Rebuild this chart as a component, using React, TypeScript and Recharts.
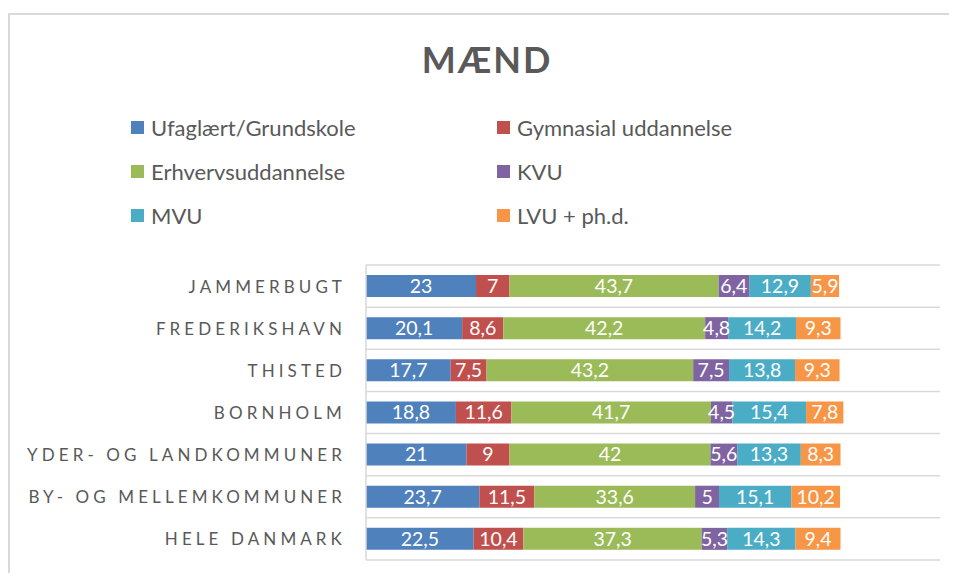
import React from "react";
import { BarChart, Bar, XAxis, YAxis, CartesianGrid, LabelList } from "recharts";

const regions = [
  "JAMMERBUGT",
  "FREDERIKSHAVN",
  "THISTED",
  "BORNHOLM",
  "YDER- OG LANDKOMMUNER",
  "BY- OG MELLEMKOMMUNER",
  "HELE DANMARK",
];

const ufaglaert = [23, 20.1, 17.7, 18.8, 21, 23.7, 22.5];
const gymnasial = [7, 8.6, 7.5, 11.6, 9, 11.5, 10.4];
const erhverv = [43.7, 42.2, 43.2, 41.7, 42, 33.6, 37.3];
const kvu = [6.4, 4.8, 7.5, 4.5, 5.6, 5, 5.3];
const mvu = [12.9, 14.2, 13.8, 15.4, 13.3, 15.1, 14.3];
const lvu = [5.9, 9.3, 9.3, 7.8, 8.3, 10.2, 9.4];

const series = [
  { key: "ufaglaert", name: "Ufaglært/Grundskole", color: "#4f81bd", values: ufaglaert },
  { key: "gymnasial", name: "Gymnasial uddannelse", color: "#c0504d", values: gymnasial },
  { key: "erhverv", name: "Erhvervsuddannelse", color: "#9bbb59", values: erhverv },
  { key: "kvu", name: "KVU", color: "#8064a2", values: kvu },
  { key: "mvu", name: "MVU", color: "#4bacc6", values: mvu },
  { key: "lvu", name: "LVU + ph.d.", color: "#f79646", values: lvu },
];

const data = regions.map((region, i) => {
  const row: Record<string, string | number> = { region };
  series.forEach((s) => {
    row[s.key] = s.values[i];
  });
  return row;
});

const font = "Lato, 'Open Sans', sans-serif";
const grey = "#595959";

const fmt = (v: any) => String(v).replace(".", ",");

const RegionTick = (props: any) => {
  const { x, y, payload } = props;
  return (
    <text
      x={x - 12}
      y={y}
      textAnchor="end"
      dominantBaseline="central"
      fill={grey}
      fontSize={17}
      letterSpacing={4.1}
      fontFamily={font}
    >
      {payload.value}
    </text>
  );
};

export default function App() {
  return (
    <div style={{ position: "relative", width: 949, height: 565, overflow: "hidden", fontFamily: font }}>
      <div
        style={{
          position: "absolute",
          left: 0,
          top: 5,
          width: 949,
          height: 560,
          borderTop: "2px solid #d9d9d9",
          borderLeft: "2px solid #d9d9d9",
          boxSizing: "border-box",
        }}
      />
      <div
        style={{
          position: "absolute",
          left: 0,
          width: 958,
          top: 33,
          textAlign: "center",
          fontSize: 36,
          lineHeight: "36px",
          fontWeight: 700,
          letterSpacing: 2,
          color: grey,
        }}
      >
        MÆND
      </div>
      <div style={{ position: "absolute", left: 123, top: 106, width: 740 }}>
        {series.map((s, i) => (
          <div
            key={s.key}
            style={{
              position: "absolute",
              left: (i % 2) * 366,
              top: Math.floor(i / 2) * 44,
              display: "flex",
              alignItems: "center",
              height: 26,
              fontSize: 22,
              color: grey,
              whiteSpace: "nowrap",
            }}
          >
            <span style={{ width: 13, height: 13, background: s.color, marginRight: 7, display: "inline-block" }} />
            {s.name}
          </div>
        ))}
      </div>
      <div style={{ position: "absolute", left: 0, top: 0 }}>
        <BarChart
          width={949}
          height={565}
          data={data}
          layout="vertical"
          barSize={22}
          margin={{ top: 257, right: 17, bottom: 13, left: 0 }}
        >
          <CartesianGrid
            vertical={false}
            stroke="#d9d9d9"
            strokeWidth={1.5}
            horizontalCoordinatesGenerator={({ offset }: any) =>
              regions.map((_, i) => offset.top + (i * offset.height) / regions.length).concat(offset.top + offset.height)
            }
          />
          <XAxis type="number" domain={[0, 120]} hide />
          <YAxis
            type="category"
            dataKey="region"
            width={358}
            axisLine={{ stroke: "#d9d9d9", strokeWidth: 1.5 }}
            tickLine={false}
            tick={<RegionTick />}
          />
          {series.map((s) => (
            <Bar key={s.key} dataKey={s.key} name={s.name} stackId="a" fill={s.color} isAnimationActive={false}>
              <LabelList
                dataKey={s.key}
                position="center"
                formatter={fmt}
                fill="#ffffff"
                fontSize={19.5}
                fontFamily={font}
              />
            </Bar>
          ))}
        </BarChart>
      </div>
    </div>
  );
}
